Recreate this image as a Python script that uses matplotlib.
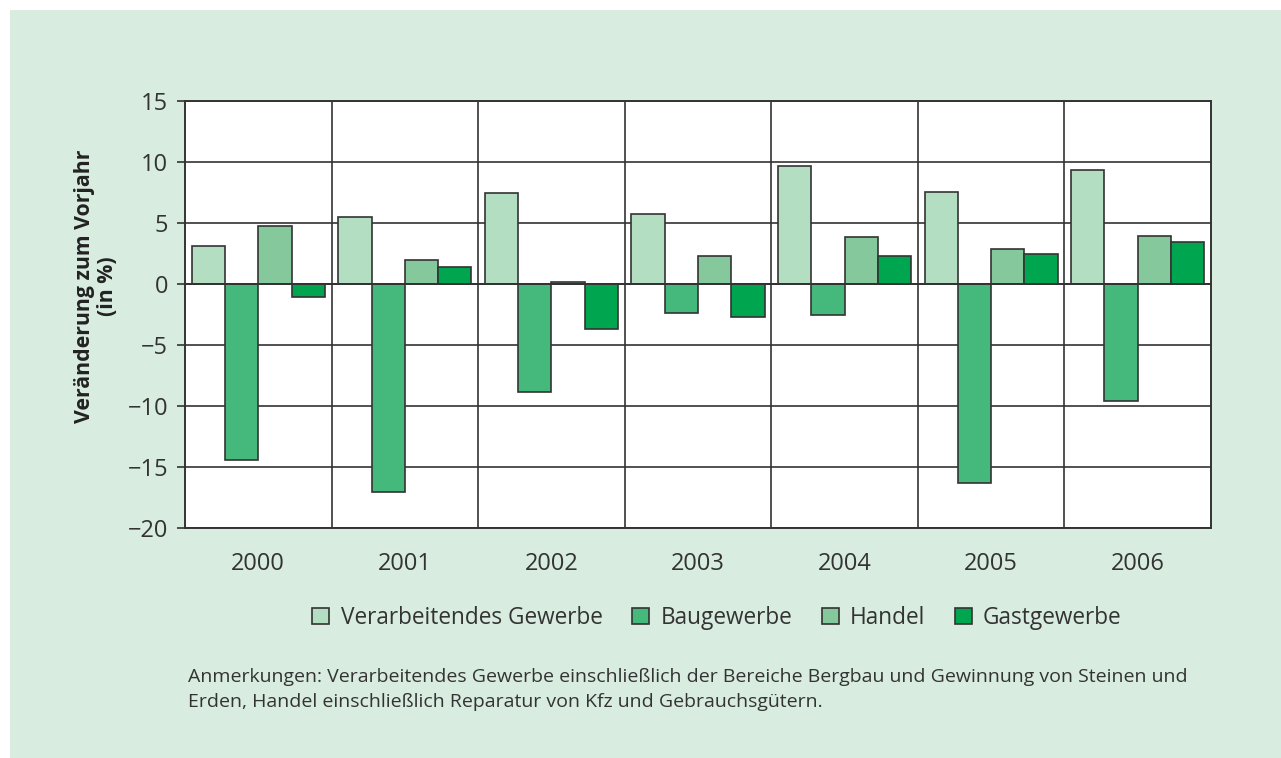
import matplotlib
matplotlib.use("Agg")
import matplotlib.pyplot as plt
from matplotlib.patches import Rectangle, Patch
import numpy as np

years = ["2000", "2001", "2002", "2003", "2004", "2005", "2006"]
series_names = ["Verarbeitendes Gewerbe", "Baugewerbe", "Handel", "Gastgewerbe"]
verarbeitendes = [3.1, 5.5, 7.5, 5.7, 9.7, 7.55, 9.35]
baugewerbe = [-14.4, -17.05, -8.85, -2.4, -2.5, -16.3, -9.6]
handel = [4.75, 2.0, 0.15, 2.3, 3.85, 2.9, 3.95]
gastgewerbe = [-1.1, 1.4, -3.7, -2.7, 2.3, 2.5, 3.45]
colors = ["#b3dec2", "#45b97c", "#84c89c", "#00a54f"]
yticks = [15, 10, 5, 0, -5, -10, -15, -20]

plt.rcParams['font.family'] = ['Open Sans', 'DejaVu Sans']

W, H = 1281, 758
fig = plt.figure(figsize=(W / 100, H / 100), dpi=100)
fig.patch.set_facecolor("white")
fig.patches.append(Rectangle((10 / W, 0), 1, 1 - 10 / H, transform=fig.transFigure,
                             facecolor="#d8ece0", edgecolor="none", zorder=-10))

ax = fig.add_axes([185 / W, 1 - 528 / H, (1211 - 185) / W, (528 - 101) / H])
ax.set_facecolor("white")

data = [verarbeitendes, baugewerbe, handel, gastgewerbe]
n = len(years)
x = np.arange(n)
bw = 0.227
for i, (vals, c) in enumerate(zip(data, colors)):
    ax.bar(x + (i - 1.5) * bw, vals, width=bw, color=c, edgecolor="#333333",
           linewidth=1.2, zorder=3)

ax.set_xlim(-0.5, n - 0.5)
ax.set_ylim(-20, 15)
for yv in yticks:
    ax.axhline(yv, color="#333333", linewidth=1.2, zorder=2)
for xv in np.arange(0.5, n - 0.5, 1):
    ax.axvline(xv, color="#333333", linewidth=1.2, zorder=2)
ax.axhline(0, color="#333333", linewidth=1.4, zorder=4)

ax.set_yticks(yticks)
ax.set_yticklabels([str(v).replace("-", "\u2212") for v in yticks], fontsize=17, color="#333333")
ax.set_xticks(x)
ax.set_xticklabels(years, fontsize=17, color="#333333")
ax.tick_params(axis="x", length=0, pad=17)
ax.tick_params(axis="y", length=6, width=1.2, color="#333333", pad=6)
for s in ax.spines.values():
    s.set_color("#333333")
    s.set_linewidth(1.4)

fig.text(96 / W, 1 - 286 / H, "Veränderung zum Vorjahr\n(in %)", fontsize=15.3,
         fontweight="bold", color="#222222", linespacing=1.1, rotation=90,
         ha="center", va="center", multialignment="center")

handles = [Patch(facecolor=c, edgecolor="#333333", linewidth=1.2) for c in colors]
fig.legend(handles, series_names, loc="center", bbox_to_anchor=(717 / W, 1 - 618 / H),
           ncol=4, frameon=False, fontsize=16.3, handlelength=0.75, handleheight=0.75,
           handletextpad=0.5, columnspacing=1.3, labelcolor="#333333")

fig.text(188 / W, 1 - 677 / H,
         "Anmerkungen: Verarbeitendes Gewerbe einschließlich der Bereiche Bergbau und Gewinnung von Steinen und",
         fontsize=14, color="#333333", va="center", ha="left")
fig.text(188 / W, 1 - 702 / H,
         "Erden, Handel einschließlich Reparatur von Kfz und Gebrauchsgütern.",
         fontsize=14, color="#333333", va="center", ha="left")

fig.savefig("out.png", dpi=100, facecolor=fig.get_facecolor())
